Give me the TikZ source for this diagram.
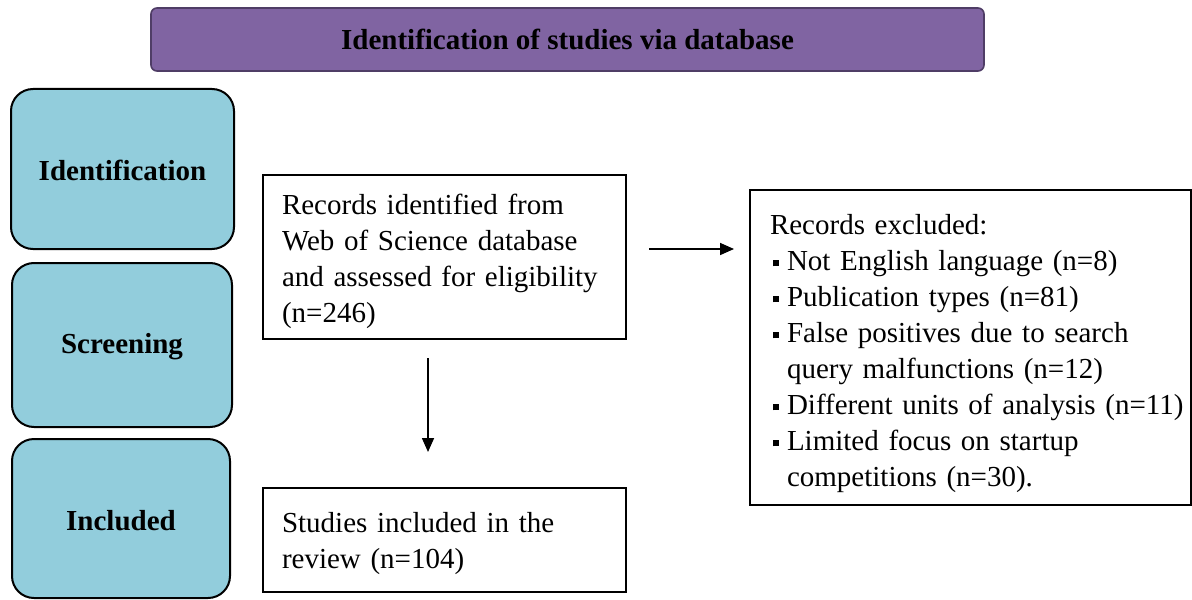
\documentclass[tikz,border=0pt]{standalone}
\usepackage{fontspec}
\setmainfont{Liberation Serif}
\usetikzlibrary{arrows.meta}
\definecolor{bannerfill}{HTML}{8064A2}
\definecolor{bannerline}{HTML}{4F3D66}
\definecolor{stagefill}{HTML}{92CDDC}
\newcommand{\sqbullet}{\makebox[8.5pt][l]{\hspace*{1.5pt}\raisebox{2pt}{\rule{3.2pt}{3.2pt}}}}
\newcommand{\hangpad}{\hspace*{8.5pt}}
\newcommand{\topstrut}[1]{\rule{0pt}{#1}}
\tikzset{
  every node/.style={font=\fontsize{14.5}{18}\selectfont},
  banner/.style={draw=bannerline, fill=bannerfill, line width=0.8pt, rounded corners=3pt,
    minimum width=416.5pt, minimum height=31.5pt, font=\fontsize{14.5}{18}\selectfont\bfseries},
  stage/.style={draw=black, fill=stagefill, line width=1pt, rounded corners=11pt,
    font=\fontsize{14.5}{18}\selectfont\bfseries},
  infobox/.style={draw=black, line width=1pt, align=left},
  flow/.style={line width=0.8pt, -{Triangle[length=7pt,width=6pt]}}
}
\begin{document}
\begin{tikzpicture}[x=0.5pt, y=-0.5pt]
\useasboundingbox (0,0) rectangle (1192,599);

% header banner
\node[banner] (head) at (567.5,39.5) {Identification of studies via database};

% stage labels on the left
\node[stage, minimum width=111.5pt, minimum height=80pt] (ident) at (122.5,169) {\topstrut{12pt}Identification};
\node[stage, minimum width=110pt, minimum height=82pt] (screen) at (122,345) {\topstrut{12pt}Screening};
\node[stage, minimum width=109pt, minimum height=79.5pt] (incl) at (121,518.5) {\topstrut{12pt}Included};

% flow boxes
\node[infobox, minimum width=181.5pt, minimum height=82pt, text width=162.5pt] (rec) at (444.5,257)
  {\topstrut{14.5pt}Records identified from\\Web of Science database\\and assessed for eligibility\\(n=246)};
\node[infobox, minimum width=181.5pt, minimum height=52pt, text width=162.5pt] (stu) at (444.5,540)
  {\topstrut{13.5pt}Studies included in the\\review (n=104)};
\node[infobox, minimum width=220.5pt, minimum height=157.5pt, text width=200.5pt] (exc) at (970.5,347.5)
  {\topstrut{16pt}Records excluded:\\
   \sqbullet Not English language (n=8)\\
   \sqbullet Publication types (n=81)\\
   \sqbullet False positives due to search\\
   \hangpad query malfunctions (n=12)\\
   \mbox{\sqbullet Different units of analysis (n=11)}\\
   \sqbullet Limited focus on startup\\
   \hangpad competitions (n=30).};

% connectors
\draw[flow, shorten <=9pt, shorten >=17.5pt] ([xshift=-8.25pt]rec.south) -- ([xshift=-8.25pt]stu.north);
\draw[flow, shorten <=11pt, shorten >=7.5pt] ([yshift=4pt]rec.east) -- ([yshift=4pt]rec.east -| exc.west);
\end{tikzpicture}
\end{document}
